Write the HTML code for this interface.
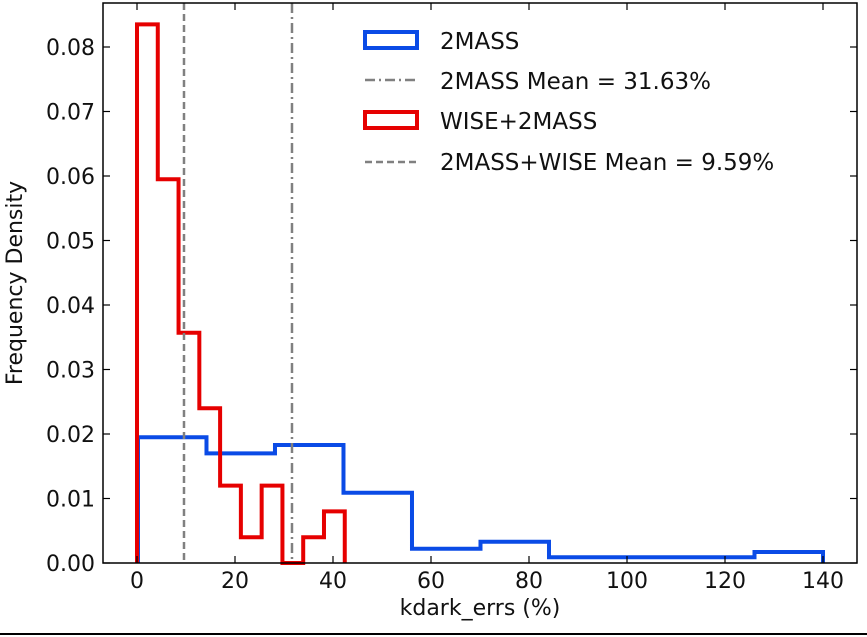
<!DOCTYPE html>
<html><head><meta charset="utf-8"><style>
html,body{margin:0;padding:0;background:#fff;}
svg{display:block;font-family:"DejaVu Sans","Liberation Sans",sans-serif;}
</style></head><body>
<svg id="chart" width="867" height="637">
<rect x="0" y="0" width="867" height="637" fill="#fff"/>
<g id="marks"></g>
<g id="axes"></g>
<g id="legend">
  <rect x="365" y="32" width="52" height="16" fill="none" stroke="#0a4be6" stroke-width="4"/>
  <text x="440" y="49" font-size="23" fill="#111">2MASS</text>
  <line x1="365" y1="80" x2="418" y2="80" stroke="#808080" stroke-width="2.5" stroke-dasharray="10,4,2,4"/>
  <text x="440" y="89" font-size="23" fill="#111">2MASS Mean = 31.63%</text>
  <rect x="365" y="112" width="52" height="16" fill="none" stroke="#e60000" stroke-width="4"/>
  <text x="440" y="129" font-size="23" fill="#111">WISE+2MASS</text>
  <line x1="365" y1="162" x2="418" y2="162" stroke="#808080" stroke-width="2.5" stroke-dasharray="7,4"/>
  <text x="440" y="170" font-size="23" fill="#111">2MASS+WISE Mean = 9.59%</text>
</g>
<line x1="0" y1="634" x2="867" y2="634" stroke="#000" stroke-width="2"/>
</svg>
<script>
const blueEdgesStart = 0.2, blueBinWidth = 13.98;
const blueValues = [0.0195,0.0170,0.0183,0.0109,0.0022,0.0033,0.0009,0.0009,0.0009,0.0017];
const redEdgesStart = 0, redBinWidth = 4.24;
const redValues = [0.0835,0.0595,0.0357,0.0240,0.0120,0.0040,0.0120,0.0,0.0040,0.0080];
const meanValues = [31.63, 9.59];
const xTicks = [0,20,40,60,80,100,120,140];
const yTicks = [0,0.01,0.02,0.03,0.04,0.05,0.06,0.07,0.08];
const yTickLabels = ["0.00","0.01","0.02","0.03","0.04","0.05","0.06","0.07","0.08"];

const L=103,R=857,T=3,B=563;
const xs=v=>137+v*4.9;
const ys=v=>563-v*6450;
const NS="http://www.w3.org/2000/svg";
const marks=document.getElementById('marks'), axes=document.getElementById('axes');
function mk(tag,attrs,parent){const e=document.createElementNS(NS,tag);for(const k in attrs)e.setAttribute(k,attrs[k]);parent.appendChild(e);return e;}

function stepPath(start,w,vals){
  let d=`M${xs(start)},${ys(0)}`;
  vals.forEach((v,i)=>{d+=` L${xs(start+i*w)},${ys(v)} L${xs(start+(i+1)*w)},${ys(v)}`;});
  d+=` L${xs(start+vals.length*w)},${ys(0)}`;
  return d;
}
let p=mk('path',{d:stepPath(blueEdgesStart,blueBinWidth,blueValues),fill:'none',stroke:'#0a4be6','stroke-width':4},marks);


p=mk('path',{d:stepPath(redEdgesStart,redBinWidth,redValues),fill:'none',stroke:'#e60000','stroke-width':4},marks);


let l=mk('line',{x1:xs(meanValues[0]),x2:xs(meanValues[0]),y1:T,y2:B,stroke:'#808080','stroke-width':2.5,'stroke-dasharray':'10,4,2,4'},marks);


l=mk('line',{x1:xs(meanValues[1]),x2:xs(meanValues[1]),y1:T,y2:B,stroke:'#808080','stroke-width':2.5,'stroke-dasharray':'7,4'},marks);



let f=mk('rect',{x:L,y:T,width:R-L,height:B-T,fill:'none',stroke:'#000','stroke-width':1.5},axes);


xTicks.forEach(t=>{
  const x=xs(t);
  let a=mk('line',{x1:x,x2:x,y1:B,y2:B-7,stroke:'#000','stroke-width':1.2},axes);
  
  
  a=mk('line',{x1:x,x2:x,y1:T,y2:T+7,stroke:'#000','stroke-width':1.2},axes);
  
  
  const tx=mk('text',{x:x,y:588,'font-size':22,'text-anchor':'middle',fill:'#111'},axes);
  tx.textContent=t;
  
  
});
yTicks.forEach((t,i)=>{
  const y=ys(t);
  let a=mk('line',{x1:L,x2:L+7,y1:y,y2:y,stroke:'#000','stroke-width':1.2},axes);
  
  
  a=mk('line',{x1:R,x2:R-7,y1:y,y2:y,stroke:'#000','stroke-width':1.2},axes);
  
  
  const tx=mk('text',{x:95,y:y+8,'font-size':22,'text-anchor':'end',fill:'#111'},axes);
  tx.textContent=yTickLabels[i];
  
  
});
let xt=mk('text',{x:480,y:615,'font-size':22,'text-anchor':'middle',fill:'#111'},axes);
xt.textContent='kdark_errs (%)';


let yt=mk('text',{x:0,y:0,'font-size':22,'text-anchor':'middle',fill:'#111',transform:'translate(22,283) rotate(-90)'},axes);
yt.textContent='Frequency Density';


</script>
</body></html>
